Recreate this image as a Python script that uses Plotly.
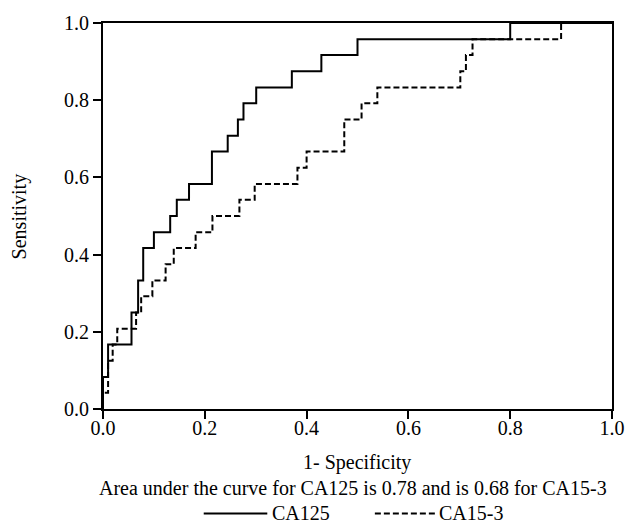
import plotly.graph_objects as go

# ROC data (step corners, line_shape='hv')
ca125_fpr = [0.0, 0.0, 0.010, 0.056, 0.069, 0.079, 0.100, 0.132, 0.145, 0.169,
             0.214, 0.245, 0.265, 0.276, 0.301, 0.371, 0.429, 0.500, 0.800, 1.0]
ca125_sens = [0.0, 0.083, 0.167, 0.250, 0.333, 0.417, 0.458, 0.500, 0.542, 0.583,
              0.667, 0.708, 0.750, 0.792, 0.833, 0.875, 0.917, 0.958, 1.0, 1.0]

ca153_fpr = [0.0, 0.0, 0.010, 0.019, 0.028, 0.065, 0.075, 0.097, 0.123, 0.139,
             0.182, 0.215, 0.268, 0.298, 0.382, 0.400, 0.474, 0.508, 0.539, 0.702,
             0.713, 0.726, 0.900, 1.0]
ca153_sens = [0.0, 0.042, 0.125, 0.167, 0.208, 0.250, 0.292, 0.333, 0.375, 0.417,
              0.458, 0.500, 0.542, 0.583, 0.625, 0.667, 0.750, 0.792, 0.833, 0.875,
              0.917, 0.958, 1.0, 1.0]

tick_vals = [0.0, 0.2, 0.4, 0.6, 0.8, 1.0]
tick_text = ["0.0", "0.2", "0.4", "0.6", "0.8", "1.0"]

series_names = ["CA125", "CA15-3"]
x_title = "1- Specificity"
y_title = "Sensitivity"
subtitle = "Area under the curve for CA125 is 0.78 and is 0.68 for CA15-3"

FONT = "Liberation Serif, Times New Roman, serif"
FS = 20
W, H = 637, 528
ML, MR, MT, MB = 103, 13.5, 15.7, 118.5
PW = W - ML - MR
PH = H - MT - MB

def py(pix):
    # pixel row -> paper y
    return (H - MB - pix) / PH

def px(pix):
    return (pix - ML) / PW

fig = go.Figure()
fig.add_trace(go.Scatter(x=ca125_fpr, y=ca125_sens, mode="lines", line_shape="hv",
                         line=dict(color="black", width=2), name=series_names[0],
                         showlegend=False))
fig.add_trace(go.Scatter(x=ca153_fpr, y=ca153_sens, mode="lines", line_shape="hv",
                         line=dict(color="black", width=2, dash="6px,3px"),
                         name=series_names[1], showlegend=False))

axis_common = dict(range=[0, 1], tickvals=tick_vals, ticktext=tick_text,
                   showgrid=False, zeroline=False, showline=True, linecolor="black",
                   linewidth=2, mirror=True, ticks="outside", ticklen=8, tickwidth=2,
                   tickcolor="black", ticklabeloverflow="allow",
                   tickfont=dict(family=FONT, size=FS, color="black"))

fig.update_layout(
    width=W, height=H,
    margin=dict(l=ML, r=MR, t=MT, b=MB),
    paper_bgcolor="white", plot_bgcolor="white",
    font=dict(family=FONT, size=FS, color="black"),
    xaxis=dict(**axis_common, ticklabelstandoff=-8),
    yaxis=dict(**axis_common),
)

txt_font = dict(family=FONT, size=FS, color="black")
# axis titles
fig.add_annotation(text=x_title, xref="paper", yref="paper", x=px(363), y=py(464),
                   showarrow=False, xanchor="center", yanchor="middle", font=txt_font)
fig.add_annotation(text=y_title, xref="paper", yref="paper", x=px(17.5), y=0.5,
                   showarrow=False, xanchor="center", yanchor="middle",
                   textangle=-90, font=txt_font)
# subtitle
fig.add_annotation(text=subtitle, xref="paper", yref="paper", x=px(359), y=py(490),
                   showarrow=False, xanchor="center", yanchor="middle", font=txt_font)

# manual legend (long line samples as in the original)
leg_y = py(516)
legend_items = [(206, 271, 274, "solid"), (381, 443, 445, "6px,3px")]
for (x0, x1, xt, dash), name in zip(legend_items, series_names):
    fig.add_shape(type="line", xref="paper", yref="paper",
                  x0=px(x0), x1=px(x1), y0=leg_y, y1=leg_y,
                  line=dict(color="black", width=2, dash=dash))
    fig.add_annotation(text=name, xref="paper", yref="paper", x=px(xt), y=leg_y,
                       showarrow=False, xanchor="left", yanchor="middle", font=txt_font)

# remove the default 8px page margin so the figure fills the window exactly
fig.write_html("out.html",
               config={"displayModeBar": False},
               post_script="document.body.style.margin='0';"
                           "document.body.style.overflow='hidden';")
